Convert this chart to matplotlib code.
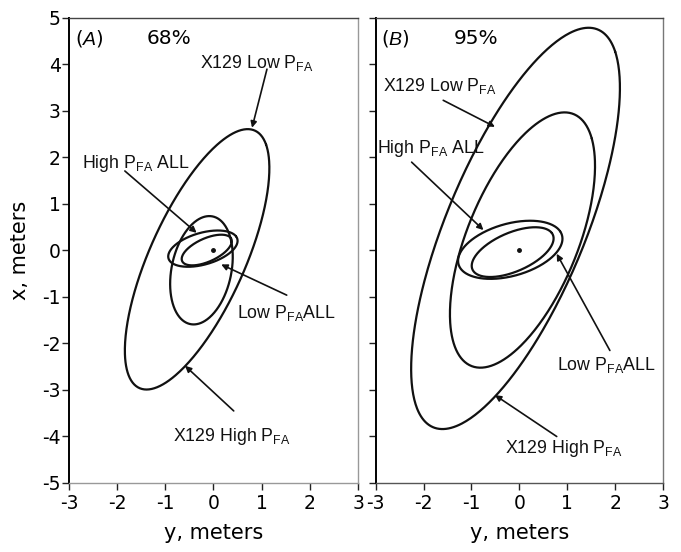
import numpy as np
import matplotlib
matplotlib.use("Agg")
import matplotlib.pyplot as plt

plt.rcParams["font.family"] = ["DejaVu Sans"]
plt.rcParams["mathtext.fontset"] = "custom"
plt.rcParams["mathtext.rm"] = "Liberation Sans"
plt.rcParams["mathtext.it"] = "Liberation Sans:italic"
plt.rcParams["axes.unicode_minus"] = False

# ellipse parameters (y-range half width, x-range half height, correlation)
# panel A, 68%
A_CX = [-0.34, -0.25, -0.22, -0.14]
A_CY = [-0.19, -0.425, 0.04, 0.01]
A_RX = [1.50, 0.65, 0.72, 0.52]
A_RY = [2.80, 1.165, 0.39, 0.33]
A_RHO = [0.70, 0.25, 0.43, 0.58]

# panel B, 95%
B_CX = [-0.08, 0.065, -0.19, -0.14]
B_CY = [0.475, 0.225, 0.015, -0.035]
B_RX = [2.18, 1.515, 1.09, 0.855]
B_RY = [4.315, 2.745, 0.625, 0.535]
B_RHO = [0.70, 0.58, 0.38, 0.55]

LABELS = [r"X129 Low P$_{\rm FA}$", r"High P$_{\rm FA}$ ALL",
          r"Low P$_{\rm FA}$ALL", r"X129 High P$_{\rm FA}$"]

# label anchor (left, center) and arrow tail / head, data coords
A_TEXT = [(-0.28, 4.03), (-2.74, 1.88), (0.49, -1.34), (-0.84, -3.99)]
A_TAIL = [(1.11, 3.90), (-1.84, 1.71), (1.52, -0.96), (0.42, -3.45)]
A_HEAD = [(0.80, 2.64), (-0.35, 0.38), (0.16, -0.30), (-0.59, -2.48)]

B_TEXT = [(-2.85, 3.54), (-2.98, 2.20), (0.78, -2.47), (-0.30, -4.25)]
B_TAIL = [(-1.59, 3.23), (-2.25, 1.90), (1.89, -2.15), (0.78, -4.00)]
B_HEAD = [(-0.51, 2.66), (-0.75, 0.44), (0.78, -0.07), (-0.51, -3.11)]

PANELS = ["A", "B"]
LEVELS = ["68%", "95%"]


def ellipse_xy(cx, cy, rx, ry, rho, n=400):
    t = np.linspace(0, 2 * np.pi, n) + 0.3
    phi = np.arccos(rho)
    return cx + rx * np.cos(t), cy + ry * np.cos(t - phi)


fig = plt.figure(figsize=(6.81, 5.52), dpi=100)
ax_a = fig.add_axes([0.1013, 0.1250, 0.4244, 0.8424])
ax_b = fig.add_axes([0.5517, 0.1250, 0.4219, 0.8424])

panel_data = [
    (ax_a, A_CX, A_CY, A_RX, A_RY, A_RHO, A_TEXT, A_TAIL, A_HEAD),
    (ax_b, B_CX, B_CY, B_RX, B_RY, B_RHO, B_TEXT, B_TAIL, B_HEAD),
]

for i, (ax, cxs, cys, rxs, rys, rhos, texts, tails, heads) in enumerate(panel_data):
    for cx, cy, rx, ry, rho in zip(cxs, cys, rxs, rys, rhos):
        ex, ey = ellipse_xy(cx, cy, rx, ry, rho)
        ax.plot(ex, ey, color="#111111", lw=1.6, solid_joinstyle="round",
                solid_capstyle="round")
    ax.plot([0], [0], "o", color="#111111", markersize=2.5)

    for lab, (tx, ty), tail, head in zip(LABELS, texts, tails, heads):
        ax.text(tx, ty, lab, ha="left", va="center", fontsize=12.8,
                family="Liberation Sans", color="#111111")
        ax.annotate("", xy=head, xytext=tail,
                    arrowprops=dict(arrowstyle="-|>", lw=1.2, color="#111111",
                                    mutation_scale=9, shrinkA=0, shrinkB=0))

    ax.text(0.02, 0.955, r"($\it{%s}$)" % PANELS[i], transform=ax.transAxes,
            ha="left", va="center", fontsize=14)
    ax.text(0.27, 0.955, LEVELS[i], transform=ax.transAxes,
            ha="left", va="center", fontsize=14.5)

    ax.set_xlim(-3, 3)
    ax.set_ylim(-5, 5)
    ax.set_xticks(range(-3, 4))
    ax.set_yticks(range(-5, 6))
    ax.tick_params(axis="both", direction="out", length=5, width=1,
                   labelsize=13.5, color="#222222")
    ax.tick_params(axis="x", pad=3)
    ax.tick_params(axis="y", pad=1)
    ax.set_xlabel("y, meters", fontsize=15)
    ax.xaxis.set_label_coords(0.5, -0.085)
    ax.spines["left"].set_color("black")
    ax.spines["left"].set_linewidth(1.4)
    ax.spines["top"].set_color("#444444")
    for s in ["right", "bottom", "top"]:
        ax.spines[s].set_linewidth(1.0)

ax_a.spines["right"].set_color("#999999")
ax_a.spines["bottom"].set_color("#999999")
ax_b.spines["right"].set_color("#777777")
ax_b.spines["bottom"].set_color("#555555")

ax_a.set_ylabel("x, meters", fontsize=15)
ax_a.yaxis.set_label_coords(-0.135, 0.5)
ax_b.set_yticklabels([])

fig.savefig("out.png", dpi=100)
